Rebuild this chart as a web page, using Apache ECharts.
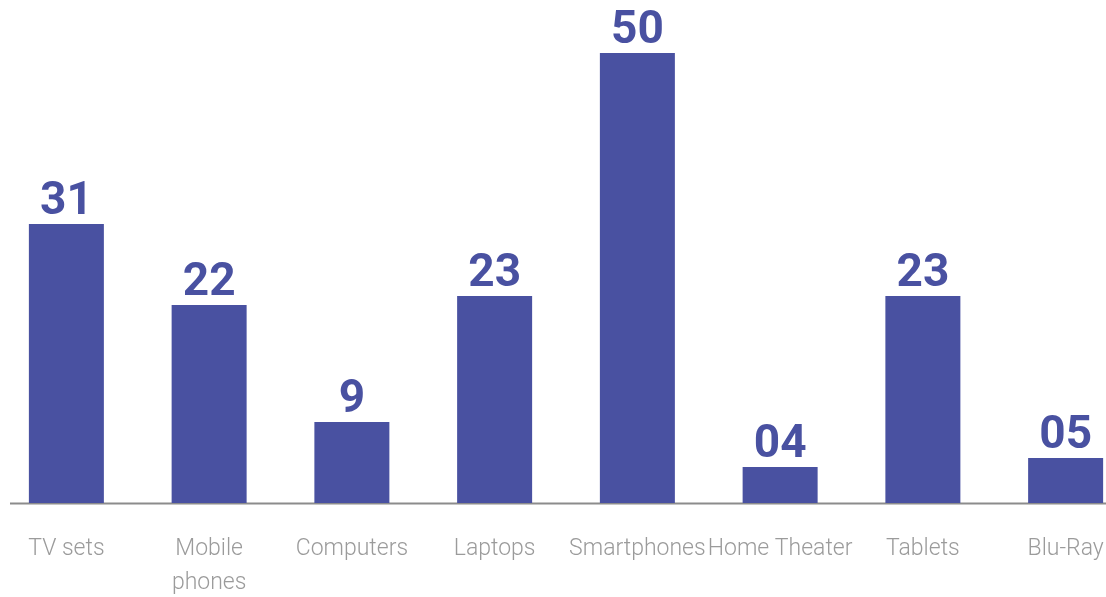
<!DOCTYPE html>
<html>
<head>
<meta charset="utf-8">
<script src="https://cdn.jsdelivr.net/npm/echarts@6/dist/echarts.min.js"></script>
<style>
  html, body { margin: 0; padding: 0; background: #ffffff; }
  #chart { width: 1106px; height: 597px; }
</style>
</head>
<body>
<div id="chart"></div>
<script>
// Sales by product category
const categories = ['TV sets', 'Mobile\nphones', 'Computers', 'Laptops', 'Smartphones', 'Home Theater', 'Tablets', 'Blu-Ray'];
const values = [31, 22, 9, 23, 50, 4, 23, 5];
const valueLabels = ['31', '22', '9', '23', '50', '04', '23', '05'];

const barColor = '#4951a1';
const chart = echarts.init(document.getElementById('chart'));

chart.setOption({
  backgroundColor: '#ffffff',
  animation: false,
  grid: { left: -5, right: -31, top: 53, bottom: 94, outerBoundsMode: 'none', containLabel: false },
  xAxis: {
    type: 'category',
    data: categories,
    axisLine: { show: false },
    axisTick: { show: false },
    axisLabel: {
      color: '#9b9b9b',
      fontFamily: 'Roboto',
      fontWeight: 300,
      fontSize: 23,
      lineHeight: 34,
      margin: 29,
      interval: 0
    }
  },
  yAxis: {
    type: 'value',
    min: 0,
    max: 50,
    show: false,
    splitLine: { show: false }
  },
  series: [{
    type: 'bar',
    data: values,
    barWidth: 75,
    itemStyle: { color: barColor },
    label: {
      show: true,
      position: 'top',
      distance: -1,
      color: barColor,
      fontFamily: 'Roboto',
      fontWeight: 'bold',
      fontSize: 46,
      formatter: p => valueLabels[p.dataIndex]
    }
  }],
  graphic: [{
    type: 'line',
    shape: { x1: 10, y1: 503.5, x2: 1106, y2: 503.5 },
    style: { stroke: '#8c8c8c', lineWidth: 2 }
  }]
});
</script>
</body>
</html>
